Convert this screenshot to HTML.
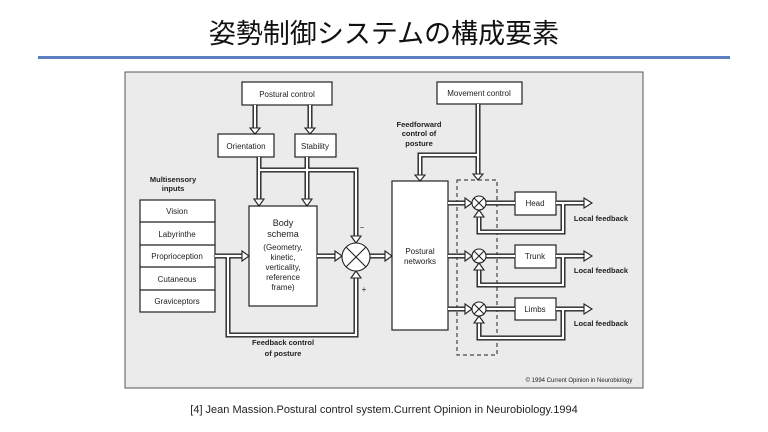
<!DOCTYPE html>
<html><head><meta charset="utf-8"><style>
html,body{margin:0;padding:0;background:#fff;}
body{width:768px;height:432px;position:relative;overflow:hidden;font-family:"Liberation Sans","Noto Sans CJK JP",sans-serif;}
.title{position:absolute;left:0;width:768px;top:12px;text-align:center;font-size:27px;color:#111;font-family:"Noto Sans CJK JP",sans-serif;}
.rule{position:absolute;left:38px;top:56px;width:692px;height:3px;background:#5b7fc0;}
.cap{position:absolute;left:0;width:768px;top:404px;text-align:center;font-size:11px;color:#222;}
</style></head><body>
<div class="title">姿勢制御システムの構成要素</div>
<div class="rule"></div>
<svg style="position:absolute;left:0;top:0" width="768" height="432" font-family="Liberation Sans, sans-serif">
<rect x="125" y="72" width="518" height="316" fill="#ebebeb" stroke="#555" stroke-width="1"/>
<g fill="#fff" stroke="#222" stroke-width="1.2">
<rect x="242" y="82" width="90" height="23"/>
<rect x="218" y="134" width="56" height="23"/>
<rect x="295" y="134" width="41" height="23"/>
<rect x="140" y="200" width="75" height="112"/>
<rect x="249" y="206" width="68" height="100"/>
<rect x="392" y="181" width="56" height="149"/>
<rect x="437" y="82" width="85" height="22"/>
<rect x="515" y="192" width="41" height="23"/>
<rect x="515" y="245" width="41" height="23"/>
<rect x="515" y="298" width="41" height="22"/>
</g>
<g stroke="#222" stroke-width="1.2"><line x1="140" y1="222" x2="215" y2="222"/><line x1="140" y1="245" x2="215" y2="245"/><line x1="140" y1="267" x2="215" y2="267"/><line x1="140" y1="290" x2="215" y2="290"/></g>
<rect x="457" y="180" width="40" height="175" fill="none" stroke="#222" stroke-width="1" stroke-dasharray="4,3"/>
<g fill="none" stroke-linejoin="miter">
<g stroke="#222" stroke-width="5">
<path d="M255 105V130M310 105V130M259 157V202M307 157V202M259 170H356V239M215 256H245M228 256V335H356V274M317 256H338M370 256H388M478 104V176M478 155H420V177"/>
<path d="M448 203H468M448 256H468M448 309H468M486 203H515M486 256H515M486 309H515M556 203H586M556 256H586M556 309H586M563 203V232H479V214M563 256V285H479V267M563 309V338H479V320"/>
</g>
<g stroke="#fff" stroke-width="2.2">
<path d="M255 105V130M310 105V130M259 157V202M307 157V202M259 170H356V239M215 256H245M228 256V335H356V274M317 256H338M370 256H388M478 104V176M478 155H420V177"/>
<path d="M448 203H468M448 256H468M448 309H468M486 203H515M486 256H515M486 309H515M556 203H586M556 256H586M556 309H586M563 203V232H479V214M563 256V285H479V267M563 309V338H479V320"/>
</g>
</g>
<g fill="#fff" stroke="#222" stroke-width="1.1">
<path d="M250 128H260L255 134Z"/><path d="M305 128H315L310 134Z"/>
<path d="M254 199H264L259 206Z"/><path d="M302 199H312L307 206Z"/>
<path d="M351 236H361L356 243Z"/><path d="M351 278H361L356 271Z"/>
<path d="M242 251V261L249 256Z"/><path d="M335 251V261L342 256Z"/><path d="M385 251V261L392 256Z"/>
<path d="M473 174H483L478 180Z"/><path d="M415 175H425L420 181Z"/>
<path d="M465 198V208L472 203Z"/><path d="M465 251V261L472 256Z"/><path d="M465 304V314L472 309Z"/>
<path d="M584 198V208L592 203Z"/><path d="M584 251V261L592 256Z"/><path d="M584 304V314L592 309Z"/>
<path d="M474 217H484L479 210Z"/><path d="M474 270H484L479 263Z"/><path d="M474 323H484L479 316Z"/>
<circle cx="356" cy="257" r="14"/>
<circle cx="479" cy="203" r="7"/><circle cx="479" cy="256" r="7"/><circle cx="479" cy="309" r="7"/>
</g>
<g stroke="#222" stroke-width="1.1">
<path d="M346 247L366 267M366 247L346 267"/>
<path d="M474 198L484 208M484 198L474 208M474 251L484 261M484 251L474 261M474 304L484 314M484 304L474 314"/>
</g>
<g font-size="8" fill="#222" text-anchor="middle">
<text x="287" y="97">Postural control</text>
<text x="246" y="149">Orientation</text>
<text x="315" y="149">Stability</text>
<text x="177" y="214">Vision</text>
<text x="177" y="237">Labyrinthe</text>
<text x="177" y="259">Proprioception</text>
<text x="177" y="282">Cutaneous</text>
<text x="177" y="304">Graviceptors</text>
<text x="283" y="226" font-size="9">Body</text>
<text x="283" y="237" font-size="9">schema</text>
<text x="283" y="250">(Geometry,</text>
<text x="283" y="260">kinetic,</text>
<text x="283" y="270">verticality,</text>
<text x="283" y="280">reference</text>
<text x="283" y="290">frame)</text>
<text x="420" y="254">Postural</text>
<text x="420" y="264">networks</text>
<text x="479" y="96">Movement control</text>
<text x="535" y="206">Head</text>
<text x="535" y="259">Trunk</text>
<text x="535" y="312">Limbs</text>
<g font-weight="bold" font-size="7.5">
<text x="173" y="182">Multisensory</text><text x="173" y="191">inputs</text>
<text x="283" y="345">Feedback control</text><text x="283" y="356">of posture</text>
<text x="419" y="127">Feedforward</text><text x="419" y="136">control of</text><text x="419" y="146">posture</text>
<text x="601" y="221">Local feedback</text><text x="601" y="273">Local feedback</text><text x="601" y="326">Local feedback</text>
</g>
<text x="362" y="230">−</text><text x="364" y="292">+</text>
<text x="579" y="382" font-size="6">© 1994 Current Opinion in Neurobiology</text>
</g>
</svg>
<div class="cap">[4] Jean Massion.Postural control system.Current Opinion in Neurobiology.1994</div>
</body></html>
